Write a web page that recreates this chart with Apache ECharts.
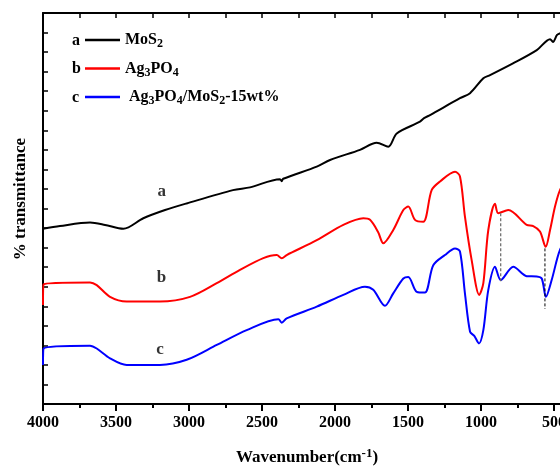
<!DOCTYPE html>
<html>
<head>
<meta charset="utf-8">
<script src="https://cdn.jsdelivr.net/npm/echarts@6/dist/echarts.min.js"></script>
<style>
  html, body { margin: 0; padding: 0; background: #fff; }
  #chart { width: 560px; height: 468px; }
</style>
</head>
<body>
<div id="chart"></div>
<script>
// wavenumber (cm-1) / transmittance (arbitrary offset units)
const mos2Wn = [4000, 3884, 3678, 3575, 3450, 3313, 3164, 3016, 2699, 2582, 2377, 2365, 2355, 2125, 2034, 1829, 1714, 1635, 1577, 1418, 1390, 1349, 1144, 1075, 984, 938, 781, 618, 527, 507, 479, 459, 400];
const mos2T = [44.8, 45.5, 46.4, 45.8, 44.8, 47.5, 49.6, 51.3, 54.7, 55.4, 57.5, 57.0, 57.6, 60.7, 62.4, 65.0, 66.8, 65.8, 69.2, 72.2, 73.1, 73.9, 78.2, 79.5, 83.3, 84.1, 87.1, 90.5, 93.3, 92.6, 94.4, 94.8, 95.5];

const agWn = [4000, 3996, 3678, 3632, 3541, 3427, 3199, 2993, 2810, 2651, 2491, 2399, 2365, 2331, 2125, 1943, 1806, 1760, 1705, 1669, 1601, 1532, 1498, 1452, 1395, 1338, 1281, 1178, 1144, 1110, 1064, 1012, 984, 950, 904, 882, 813, 687, 642, 596, 557, 527, 493, 459, 400];
const agT = [25.3, 30.6, 31.1, 30.4, 27.4, 26.2, 26.2, 27.4, 30.9, 34.3, 37.3, 38.1, 37.3, 38.1, 41.9, 45.8, 47.5, 47.1, 44.0, 41.1, 44.5, 49.6, 50.5, 47.1, 46.6, 54.7, 56.9, 59.4, 58.2, 47.9, 36.8, 27.9, 30.9, 44.5, 51.2, 48.8, 49.6, 45.8, 45.5, 44.1, 40.2, 44.5, 50.5, 54.7, 58.6];

const compWn = [4000, 3996, 3678, 3632, 3541, 3427, 3199, 3016, 2810, 2605, 2388, 2365, 2331, 2125, 1943, 1795, 1738, 1658, 1601, 1532, 1498, 1440, 1384, 1327, 1247, 1178, 1144, 1110, 1075, 1046, 1014, 984, 950, 904, 865, 779, 687, 618, 584, 555, 516, 459, 400];
const compT = [10.0, 14.2, 14.9, 14.2, 11.7, 10.0, 10.0, 11.3, 15.1, 18.9, 21.7, 20.8, 21.9, 24.9, 27.9, 30.0, 29.2, 25.1, 28.3, 32.1, 32.5, 28.7, 28.5, 35.5, 38.1, 39.8, 39.0, 28.3, 18.5, 17.4, 15.5, 18.9, 29.2, 35.1, 31.7, 35.1, 32.7, 32.6, 32.1, 27.4, 31.7, 39.4, 42.7];

// guide lines at the shifted bands
const guide1 = [[865, 48.8], [865, 31.3]];
const guide2 = [[562, 39.8], [562, 24.3]];

// curve letters
const curveTags = [[3187, 54.3, 'a'], [3188, 32.4, 'b'], [3199, 13.8, 'c']];

const zip = (xs, ys) => xs.map((x, i) => [x, ys[i]]);

const serif = 'Liberation Serif, Times New Roman, serif';
const chart = echarts.init(document.getElementById('chart'));

const lineSeries = (name, xs, ys, color) => ({
  name,
  type: 'line',
  data: zip(xs, ys),
  symbol: 'none',
  smooth: 0.3,
  lineStyle: { color, width: 2 },
  itemStyle: { color },
  silent: true,
});

const option = {
  animation: false,
  legend: {
    orient: 'vertical',
    left: 85,
    top: 32,
    padding: 0,
    icon: 'rect',
    itemWidth: 35,
    itemHeight: 2.5,
    itemGap: 10.5,
    data: ['MoS2', 'Ag3PO4', 'Ag3PO4/MoS2-15wt%'],
    formatter: (name) => {
      if (name === 'MoS2') return '{n|MoS}{s|2}';
      if (name === 'Ag3PO4') return '{n|Ag}{s|3}{n|PO}{s|4}';
      return '{n| Ag}{s|3}{n|PO}{s|4}{n|/MoS}{s|2}{n|-15wt%}';
    },
    textStyle: {
      rich: {
        n: { fontFamily: serif, fontWeight: 'bold', fontSize: 16, color: '#000' },
        s: { fontFamily: serif, fontWeight: 'bold', fontSize: 12, color: '#000', padding: [8, 0, 0, 0] },
      },
    },
  },
  grid: { left: 43, top: 13, width: 584, height: 391, containLabel: false, outerBoundsMode: 'none' },
  xAxis: [
    {
      type: 'value',
      min: 0,
      max: 4000,
      interval: 500,
      inverse: true,
      position: 'bottom',
      axisLine: { onZero: false, lineStyle: { color: '#000', width: 2 } },
      axisTick: { inside: false, length: 7, lineStyle: { color: '#000', width: 2 } },
      minorTick: { show: true, splitNumber: 2, length: 4, lineStyle: { color: '#000', width: 2 } },
      axisLabel: {
        color: '#000', fontFamily: serif, fontWeight: 'bold', fontSize: 16, margin: 11,
        formatter: (v) => String(v),
      },
      splitLine: { show: false },
    },
    {
      type: 'value',
      min: 0,
      max: 4000,
      interval: 250,
      inverse: true,
      position: 'top',
      axisLine: { onZero: false, lineStyle: { color: '#000', width: 2 } },
      axisTick: { inside: true, length: 5, lineStyle: { color: '#000', width: 1.5 } },
      axisLabel: { show: false },
      splitLine: { show: false },
    },
  ],
  yAxis: {
    type: 'value',
    min: 0,
    max: 100,
    interval: 5,
    position: 'left',
    axisLine: { show: true, onZero: false, lineStyle: { color: '#000', width: 2 } },
    axisTick: { show: true, inside: true, length: 5, lineStyle: { color: '#000', width: 1.5 } },
    axisLabel: { show: false },
    splitLine: { show: false },
  },
  graphic: [
    { type: 'text', left: 72, top: 33, style: { text: 'a', font: 'bold 16px ' + serif, fill: '#000' } },
    { type: 'text', left: 72, top: 61, style: { text: 'b', font: 'bold 16px ' + serif, fill: '#000' } },
    { type: 'text', left: 72, top: 90, style: { text: 'c', font: 'bold 16px ' + serif, fill: '#000' } },
    {
      type: 'text',
      x: 307,
      y: 458,
      style: {
        text: '{n|Wavenumber(cm}{p|-1}{n|)}',
        align: 'center',
        verticalAlign: 'middle',
        rich: {
          n: { fontFamily: serif, fontWeight: 'bold', fontSize: 17, fill: '#000' },
          p: { fontFamily: serif, fontWeight: 'bold', fontSize: 13, fill: '#000', padding: [0, 0, 8, 0] },
        },
      },
    },
    {
      type: 'text',
      x: 21,
      y: 199,
      rotation: Math.PI / 2,
      style: {
        text: '% transmittance',
        font: 'bold 17px ' + serif,
        fill: '#000',
        align: 'center',
        verticalAlign: 'middle',
      },
    },
  ],
  series: [
    lineSeries('MoS2', mos2Wn, mos2T, '#000000'),
    lineSeries('Ag3PO4', agWn, agT, '#ff0000'),
    lineSeries('Ag3PO4/MoS2-15wt%', compWn, compT, '#0000ff'),
    {
      type: 'line',
      data: guide1,
      symbol: 'none',
      silent: true,
      lineStyle: { color: '#666', width: 1.2, type: [3, 2] },
    },
    {
      type: 'line',
      data: guide2,
      symbol: 'none',
      silent: true,
      lineStyle: { color: '#000', width: 1, type: [3, 2] },
    },
    {
      type: 'scatter',
      data: curveTags.map(t => ({ value: [t[0], t[1]], name: t[2] })),
      symbolSize: 1,
      itemStyle: { color: 'rgba(0,0,0,0)' },
      silent: true,
      label: {
        show: true,
        position: 'inside',
        formatter: (p) => p.name,
        color: '#000',
        fontFamily: serif,
        fontWeight: 'bold',
        fontSize: 17,
      },
    },
  ],
};

chart.setOption(option);
</script>
</body>
</html>
